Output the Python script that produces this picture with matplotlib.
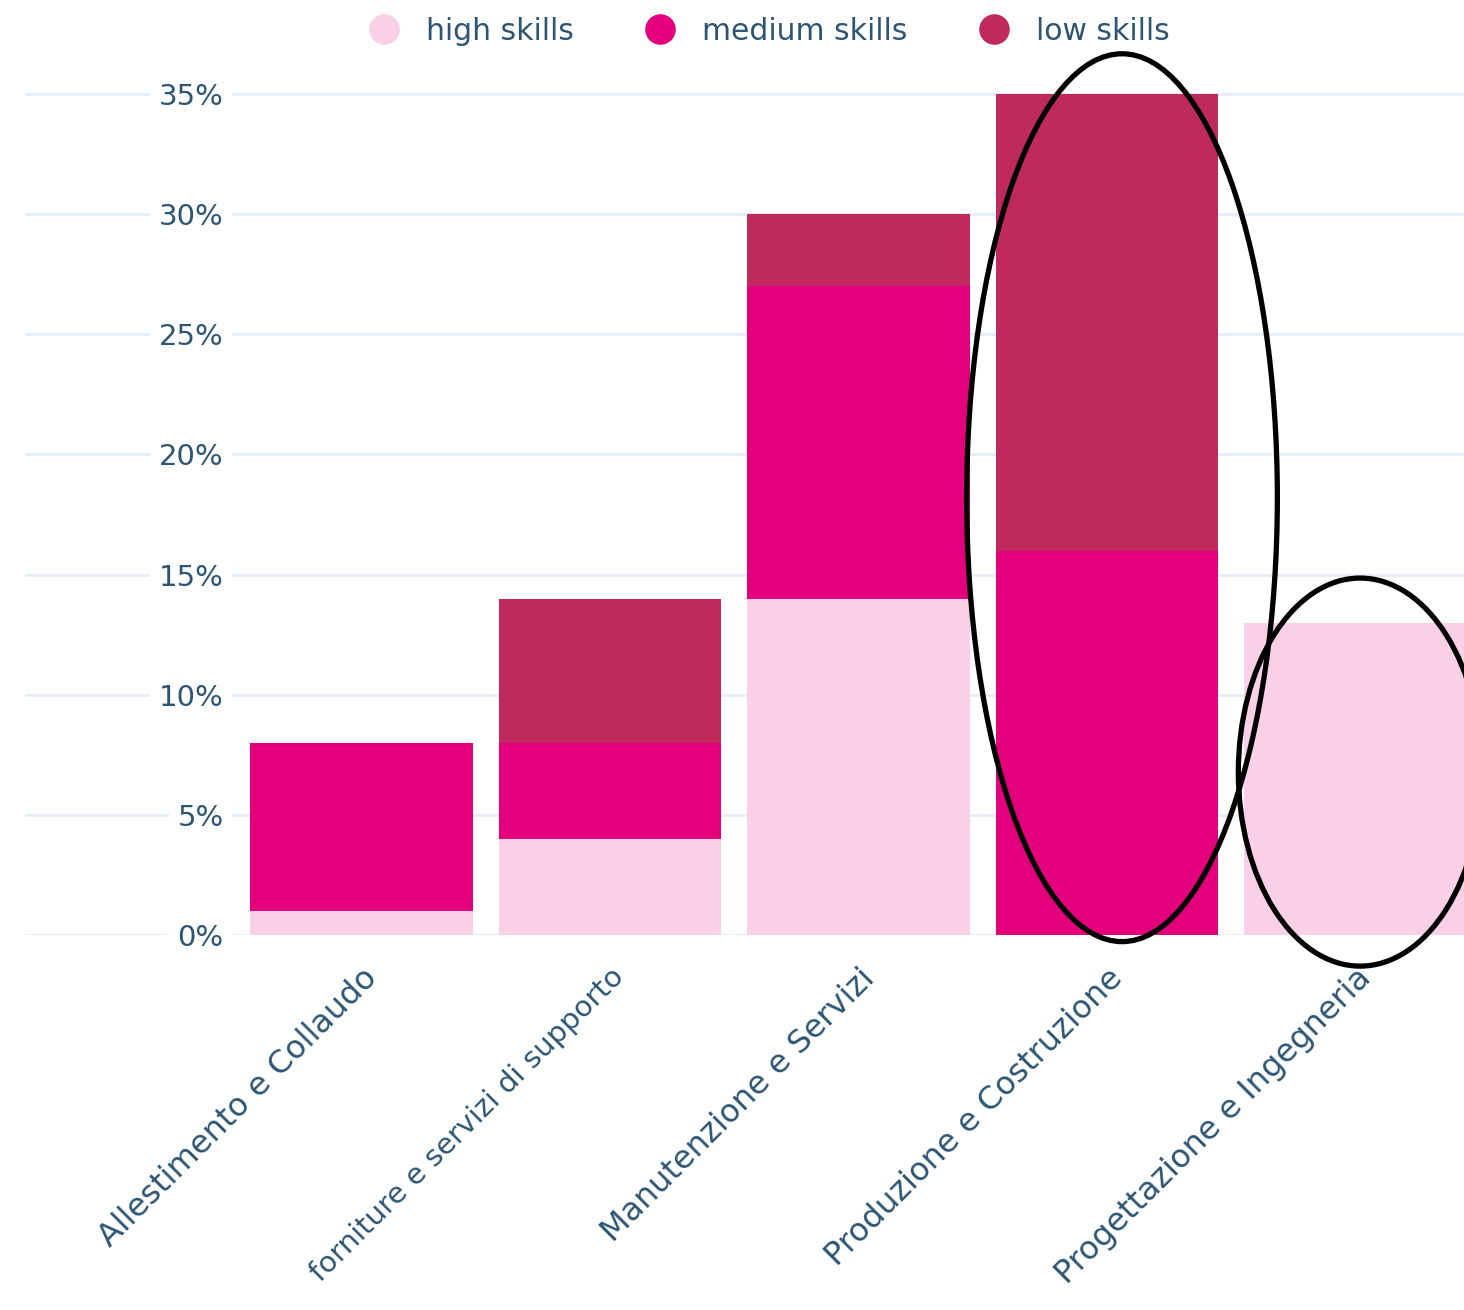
import matplotlib
matplotlib.use("Agg")
import matplotlib.pyplot as plt
import numpy as np
from matplotlib.patches import Ellipse

plt.rcParams['font.family'] = ['DejaVu Sans']

categories = ["Allestimento e Collaudo", "forniture e servizi di supporto",
              "Manutenzione e Servizi", "Produzione e Costruzione",
              "Progettazione e Ingegneria"]
high = [1, 4, 14, 0, 13]
medium = [7, 4, 13, 16, 0]
low = [0, 6, 3, 19, 0]
series_names = ["high skills", "medium skills", "low skills"]
colors = ["#f9d0e6", "#e4007c", "#c0295d"]
yticks = [0, 5, 10, 15, 20, 25, 30, 35]

text_col = "#2c5573"

fig = plt.figure(figsize=(14.64, 13.10), dpi=100)
# axes spans px 25..1464 horizontally, 0% at y=935, 35.5% at y=82
ax = fig.add_axes([25 / 1464, (1310 - 935) / 1310, 1439 / 1464, 853 / 1310])

x = np.arange(len(categories))
bottom = np.zeros(len(categories))
for vals, col in zip([high, medium, low], colors):
    ax.bar(x, vals, width=0.895, bottom=bottom, color=col, edgecolor='none', zorder=2)
    bottom += np.array(vals)

ax.set_xlim(-1.354, 4.436)
ax.set_ylim(0, 35.5)

ax.set_yticks(yticks)
ax.set_yticklabels([f"{t}%" for t in yticks], fontsize=21, color=text_col)
ax.tick_params(axis='y', length=0, pad=-143)
for lab in ax.get_yticklabels():
    lab.set_bbox(dict(facecolor='white', edgecolor='none', pad=6))
    lab.set_zorder(3)
ax.grid(axis='y', color='#e6edf7', linewidth=2, zorder=0)

ax.set_xticks(x)
ax.set_xticklabels(categories, rotation=45, ha='right', rotation_mode='anchor',
                   fontsize=23, color=text_col)
ax.get_xticklabels()[1].set_fontsize(21)
ax.tick_params(axis='x', length=0, pad=20)

for s in ax.spines.values():
    s.set_visible(False)

# legend
handles = [plt.Line2D([], [], marker='o', linestyle='none', markersize=22,
                      markerfacecolor=c, markeredgecolor='none') for c in colors]
fig.legend(handles, series_names, loc='center', bbox_to_anchor=(762 / 1464, 1 - 31 / 1310),
           ncol=3, frameon=False, fontsize=21.5, labelcolor=text_col,
           handletextpad=0.4, columnspacing=1.9)

# annotation ellipses
ax.add_patch(Ellipse((3.06, 18.2), 1.25, 36.95, fill=False, edgecolor='black',
                     linewidth=3.8, clip_on=False, zorder=5))
ax.add_patch(Ellipse((4.018, 6.78), 0.98, 16.15, fill=False, edgecolor='black',
                     linewidth=3.8, clip_on=False, zorder=5))

fig.savefig("out.png", dpi=100)
